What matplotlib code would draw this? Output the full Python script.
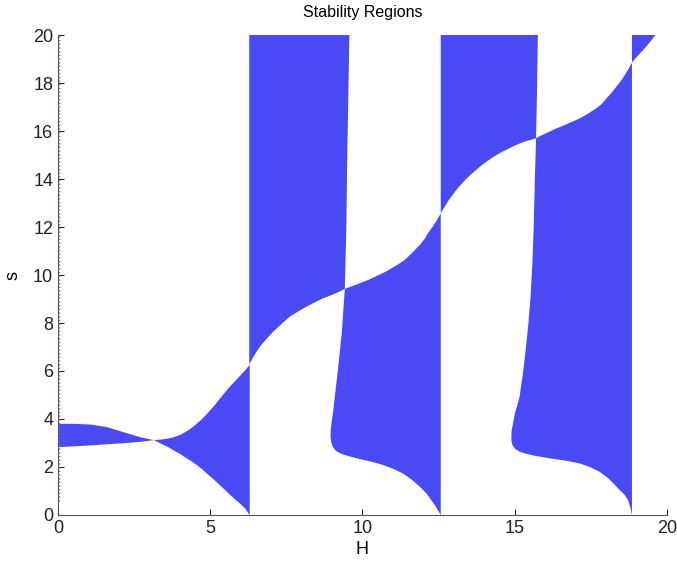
import matplotlib
matplotlib.use('Agg')
import matplotlib.pyplot as plt

# boundaries (H, s)
# left lobe, 0 < H < pi
lobe_h = [0.0, 0.5, 1.05, 1.6, 2.14, 2.69, 2.9, 3.14]
lobe_top = [3.82, 3.82, 3.79, 3.68, 3.47, 3.26, 3.2, 3.14]
lobe_bot = [2.85, 2.88, 2.92, 2.97, 3.01, 3.07, 3.1, 3.14]

# pi < H < 2pi
b_h = [3.14, 3.4, 3.6, 3.78, 4.0, 4.2, 4.33, 4.5, 4.7, 4.88, 5.1, 5.3, 5.43, 5.6,
       5.8, 5.97, 6.15, 6.28]
b_top = [3.14, 3.17, 3.21, 3.26, 3.36, 3.5, 3.61, 3.78, 4.0, 4.24, 4.55, 4.87, 5.07, 5.33,
         5.6, 5.83, 6.08, 6.28]
b_bot = [3.14, 2.97, 2.85, 2.71, 2.56, 2.39, 2.29, 2.14, 1.95, 1.74, 1.5, 1.26, 1.11, 0.9,
         0.67, 0.49, 0.26, 0.0]

# upper column between 2pi and 3pi
c_curve_h = [6.28, 6.45, 6.63, 6.85, 7.07, 7.35, 7.61, 7.9, 8.16, 8.45, 8.71, 8.95, 9.2, 9.42]
c_curve_s = [6.28, 6.66, 7.01, 7.34, 7.64, 7.97, 8.26, 8.49, 8.68, 8.87, 9.03, 9.15, 9.28, 9.42]
c_right_h = [9.57, 9.5, 9.47, 9.42]
c_right_s = [20.0, 15.0, 12.0, 9.42]

# lower column between 3pi and 4pi
d_curve_h = [9.42, 9.6, 9.8, 10.0, 10.18, 10.4, 10.55, 10.75, 10.95, 11.15, 11.3, 11.45,
             11.61, 11.75, 11.9, 12.05, 12.15, 12.25, 12.35, 12.46, 12.57]
d_curve_s = [9.42, 9.51, 9.6, 9.7, 9.79, 9.92, 10.01, 10.13, 10.28, 10.43, 10.55, 10.7,
             10.9, 11.08, 11.28, 11.52, 11.74, 11.92, 12.1, 12.32, 12.57]
d_edge_h = [12.57, 12.5, 12.42, 12.33, 12.26, 12.1, 11.88, 11.62, 11.33, 11.0, 10.68, 10.3,
            9.91, 9.55, 9.3, 9.12, 9.02, 8.97, 8.95, 8.96, 9.0, 9.05, 9.09, 9.17, 9.25,
            9.32, 9.37, 9.42]
d_edge_s = [0.0, 0.15, 0.32, 0.5, 0.62, 0.9, 1.18, 1.47, 1.73, 1.93, 2.08, 2.22,
            2.33, 2.45, 2.55, 2.68, 2.85, 3.05, 3.3, 3.6, 4.0, 4.45, 4.92, 5.8, 6.72,
            7.6, 8.52, 9.42]

# upper column between 4pi and 5pi
e_curve_h = [12.57, 12.7, 12.85, 13.08, 13.25, 13.4, 13.57, 13.74, 13.9, 14.07, 14.24,
             14.4, 14.57, 14.73, 14.9, 15.05, 15.2, 15.38, 15.55, 15.7]
e_curve_s = [12.57, 12.85, 13.15, 13.54, 13.79, 14.0, 14.2, 14.38, 14.56, 14.72, 14.87,
             15.0, 15.12, 15.22, 15.33, 15.42, 15.5, 15.58, 15.64, 15.7]
e_right_h = [15.76, 15.73, 15.7]
e_right_s = [20.0, 17.5, 15.7]

# lower column between 5pi and 6pi
f_curve_h = [15.7, 15.88, 16.05, 16.2, 16.37, 16.55, 16.7, 16.85, 17.02, 17.18, 17.35,
             17.5, 17.68, 17.85, 18.0, 18.17, 18.34, 18.47, 18.6, 18.72, 18.85]
f_curve_s = [15.7, 15.82, 15.92, 16.01, 16.11, 16.2, 16.28, 16.37, 16.46, 16.56, 16.68,
             16.8, 16.95, 17.12, 17.34, 17.58, 17.85, 18.06, 18.3, 18.55, 18.85]
f_edge_h = [18.85, 18.8, 18.72, 18.6, 18.48, 18.34, 18.1, 17.79, 17.45, 17.13, 16.65,
            16.15, 15.65, 15.35, 15.16, 15.02, 14.93, 14.89, 14.89, 14.9, 14.95, 15.0,
            15.08, 15.16, 15.28, 15.37, 15.45, 15.52, 15.58, 15.62, 15.66, 15.7]
f_edge_s = [0.0, 0.3, 0.63, 0.85, 1.0, 1.18, 1.5, 1.8, 2.01, 2.15, 2.27,
            2.36, 2.47, 2.56, 2.64, 2.75, 2.9, 3.1, 3.3, 3.54, 3.85, 4.2,
            4.55, 4.93, 6.0, 7.0, 8.0, 9.1, 10.5, 11.88, 13.96, 15.7]

# small corner past 6pi
g_curve_h = [18.85, 19.05, 19.25, 19.45, 19.62]
g_curve_s = [18.85, 19.15, 19.42, 19.72, 20.0]

# dotted trace on the H = 0 edge
edge_h = [0.04, 0.04]
edge_s = [0.6, 20.0]

BLUE = '#4a4af4'

plt.rcParams['font.family'] = ['Liberation Sans', 'DejaVu Sans']

fig = plt.figure(figsize=(6.77, 5.64), dpi=100)
ax = fig.add_axes([0.0857, 0.0869, 0.8995, 0.851])

ax.fill_between(lobe_h, lobe_bot, lobe_top, color=BLUE, lw=0)
ax.fill_between(b_h, b_bot, b_top, color=BLUE, lw=0)

ax.fill([c_curve_h[0]] + c_curve_h + c_right_h[::-1][1:],
        [20.0] + c_curve_s + c_right_s[::-1][1:], color=BLUE, lw=0)
ax.fill(d_curve_h + d_edge_h, d_curve_s + d_edge_s, color=BLUE, lw=0)
ax.fill([e_curve_h[0]] + e_curve_h + e_right_h[::-1][1:],
        [20.0] + e_curve_s + e_right_s[::-1][1:], color=BLUE, lw=0)
ax.fill(f_curve_h + f_edge_h, f_curve_s + f_edge_s, color=BLUE, lw=0)
ax.fill([g_curve_h[0]] + g_curve_h, [20.0] + g_curve_s, color=BLUE, lw=0)

ax.plot(edge_h, edge_s, color='#6a6ad8', ls=':', lw=1.0)

ax.set_xlim(0, 20)
ax.set_ylim(0, 20)
ax.set_xticks(range(0, 21, 5))
ax.set_yticks(range(0, 21, 2))
ax.tick_params(direction='in', length=4, width=0.8, labelsize=13, colors='#222222')
for side in ['top', 'right']:
    ax.spines[side].set_visible(False)
for side in ['left', 'bottom']:
    ax.spines[side].set_color('#555555')
    ax.spines[side].set_linewidth(0.8)

ax.set_xlabel('H', fontsize=13, labelpad=3)
ax.set_ylabel('s', fontsize=13, labelpad=8)
ax.set_title('Stability Regions', fontsize=11.5, pad=13)

plt.savefig('out.png')
